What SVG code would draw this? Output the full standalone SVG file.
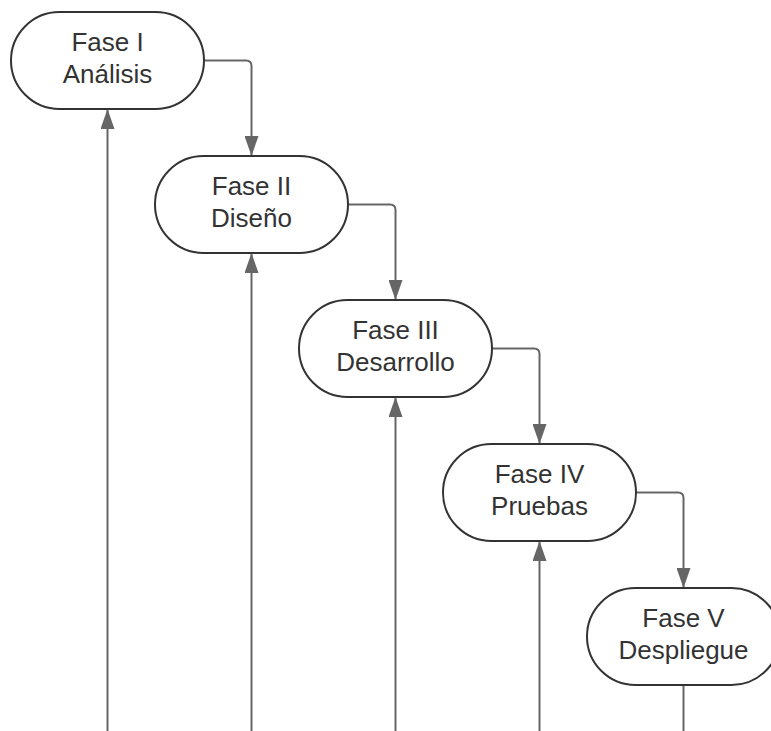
<svg xmlns="http://www.w3.org/2000/svg" width="771" height="731" viewBox="0 0 771 731">
  <style>
    .node { fill: #ffffff; stroke: #333333; stroke-width: 2; }
    .label { font-family: "Liberation Sans", Arial, sans-serif; font-size: 26px; fill: #333333; text-anchor: middle; }
    .conn { fill: none; stroke: #666666; stroke-width: 2; }
  </style>
  <defs>
    <marker id="arrow" viewBox="0 0 20 14" refX="19" refY="7" markerWidth="20" markerHeight="14" markerUnits="userSpaceOnUse" orient="auto">
      <path d="M0,0 L20,7 L0,14 Z" fill="#666666"/>
    </marker>
  </defs>

  <rect width="771" height="731" fill="#ffffff"/>

  <!-- connectors -->
  <g id="connectors">
    <!-- phase to next phase -->
    <path class="conn" marker-end="url(#arrow)" d="M204,60.5 H246 Q251.5,60.5 251.5,66 V155"/>
    <path class="conn" marker-end="url(#arrow)" d="M348,204.5 H390 Q395.5,204.5 395.5,210 V299"/>
    <path class="conn" marker-end="url(#arrow)" d="M492,348.5 H534 Q539.5,348.5 539.5,354 V443"/>
    <path class="conn" marker-end="url(#arrow)" d="M636,492.5 H678 Q683.5,492.5 683.5,498 V587"/>
    <!-- feedback lines from below -->
    <path class="conn" marker-end="url(#arrow)" d="M107.5,731 V110"/>
    <path class="conn" marker-end="url(#arrow)" d="M251.5,731 V254"/>
    <path class="conn" marker-end="url(#arrow)" d="M395.5,731 V398"/>
    <path class="conn" marker-end="url(#arrow)" d="M539.5,731 V542"/>
    <path class="conn" d="M683.5,685 V731"/>
  </g>

  <g id="fase1">
    <rect class="node" x="11" y="12" width="193" height="97" rx="48.5"/>
    <text class="label" x="107.5" y="50.5">Fase I</text>
    <text class="label" x="107.5" y="82.5">Análisis</text>
  </g>
  <g id="fase2">
    <rect class="node" x="155" y="156" width="193" height="97" rx="48.5"/>
    <text class="label" x="251.5" y="194.5">Fase II</text>
    <text class="label" x="251.5" y="226.5">Diseño</text>
  </g>
  <g id="fase3">
    <rect class="node" x="299" y="300" width="193" height="97" rx="48.5"/>
    <text class="label" x="395.5" y="338.5">Fase III</text>
    <text class="label" x="395.5" y="370.5">Desarrollo</text>
  </g>
  <g id="fase4">
    <rect class="node" x="443" y="444" width="193" height="97" rx="48.5"/>
    <text class="label" x="539.5" y="482.5">Fase IV</text>
    <text class="label" x="539.5" y="514.5">Pruebas</text>
  </g>
  <g id="fase5">
    <rect class="node" x="587" y="588" width="193" height="97" rx="48.5"/>
    <text class="label" x="683.5" y="626.5">Fase V</text>
    <text class="label" x="683.5" y="658.5">Despliegue</text>
  </g>
</svg>
